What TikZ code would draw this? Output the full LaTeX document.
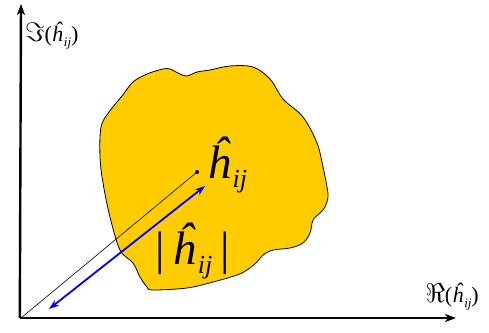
\documentclass[tikz,border=0pt]{standalone}
\usepackage{fontspec}
\setmainfont{Liberation Serif}
\usetikzlibrary{arrows.meta}
\definecolor{blobyellow}{RGB}{255,204,0}
\definecolor{arrowblue}{RGB}{0,0,240}
% hat-h with subscript ij: #1 subscript size, #2 lowering
\newcommand{\myhij}[2]{\textit{ĥ}\kern0.04em\raisebox{-#2}{\fontsize{#1}{#1}\selectfont\textit{ij}}}
\begin{document}
\begin{tikzpicture}[x=1pt,y=-1pt,
  axis/.style={line width=2.4pt,-{Stealth[length=11pt,width=8pt,inset=3pt]}},
  magarrow/.style={line width=1.8pt,arrowblue,{Stealth[length=10pt,width=7pt,inset=3pt]}-{Stealth[length=10pt,width=7pt,inset=3pt]}},
  biglabel/.style={inner sep=0pt,font=\fontsize{47}{50}\selectfont},
  axislabel/.style={inner sep=0pt,font=\fontsize{22}{24}\selectfont}]
\useasboundingbox (0,0) rectangle (489,332);
% blob
\draw[fill=blobyellow,line width=0.8pt] plot[smooth cycle,tension=0.55] coordinates {
(100,157) (101,127) (109,112) (122,96) (133,82) (147,74) (163,69) (170,69) (180,74) (187,76) (197,72) (210,70) (230,66) (253,67) (270,79) (283,99) (303,117) (317,143) (323,167) (327,187) (328,197) (325,207) (320,213) (313,220) (310,233) (303,243) (290,248) (273,250) (263,255) (257,262) (247,270) (237,275) (213,282) (187,288) (153,290) (147,287) (140,277) (133,263) (120,250) (110,217) (103,183)};
% axes
\coordinate (O) at (21,318);
\coordinate (ytip) at (21,4);
\coordinate (xtip) at (456,318);
\draw[axis] ([xshift=-1.2pt]O) -- (ytip);
\draw[axis] ([xshift=-1.2pt]O) -- (xtip);
\node[axislabel,anchor=base west] (ylab) at (25,41) {\scalebox{1.3}{$\Im$}(\myhij{13pt}{5pt})};
\node[axislabel,anchor=base east] (xlab) at (479,302) {\scalebox{1.3}{$\Re$}(\myhij{13pt}{5pt})};
% point and vectors
\coordinate (P) at (197,172);
\fill (P) circle (2pt);
\draw[line width=0.6pt] (O) -- (P);
\coordinate (A) at (49,309);
\coordinate (B) at (205,186);
\draw[magarrow] (A) -- (B);
\node[biglabel,anchor=base west] (hl) at (207,178) {\myhij{26pt}{9pt}};
\node[biglabel,anchor=base west] (ml) at (155,264) {|\,\myhij{26pt}{9pt}\,|};
\end{tikzpicture}
\end{document}
